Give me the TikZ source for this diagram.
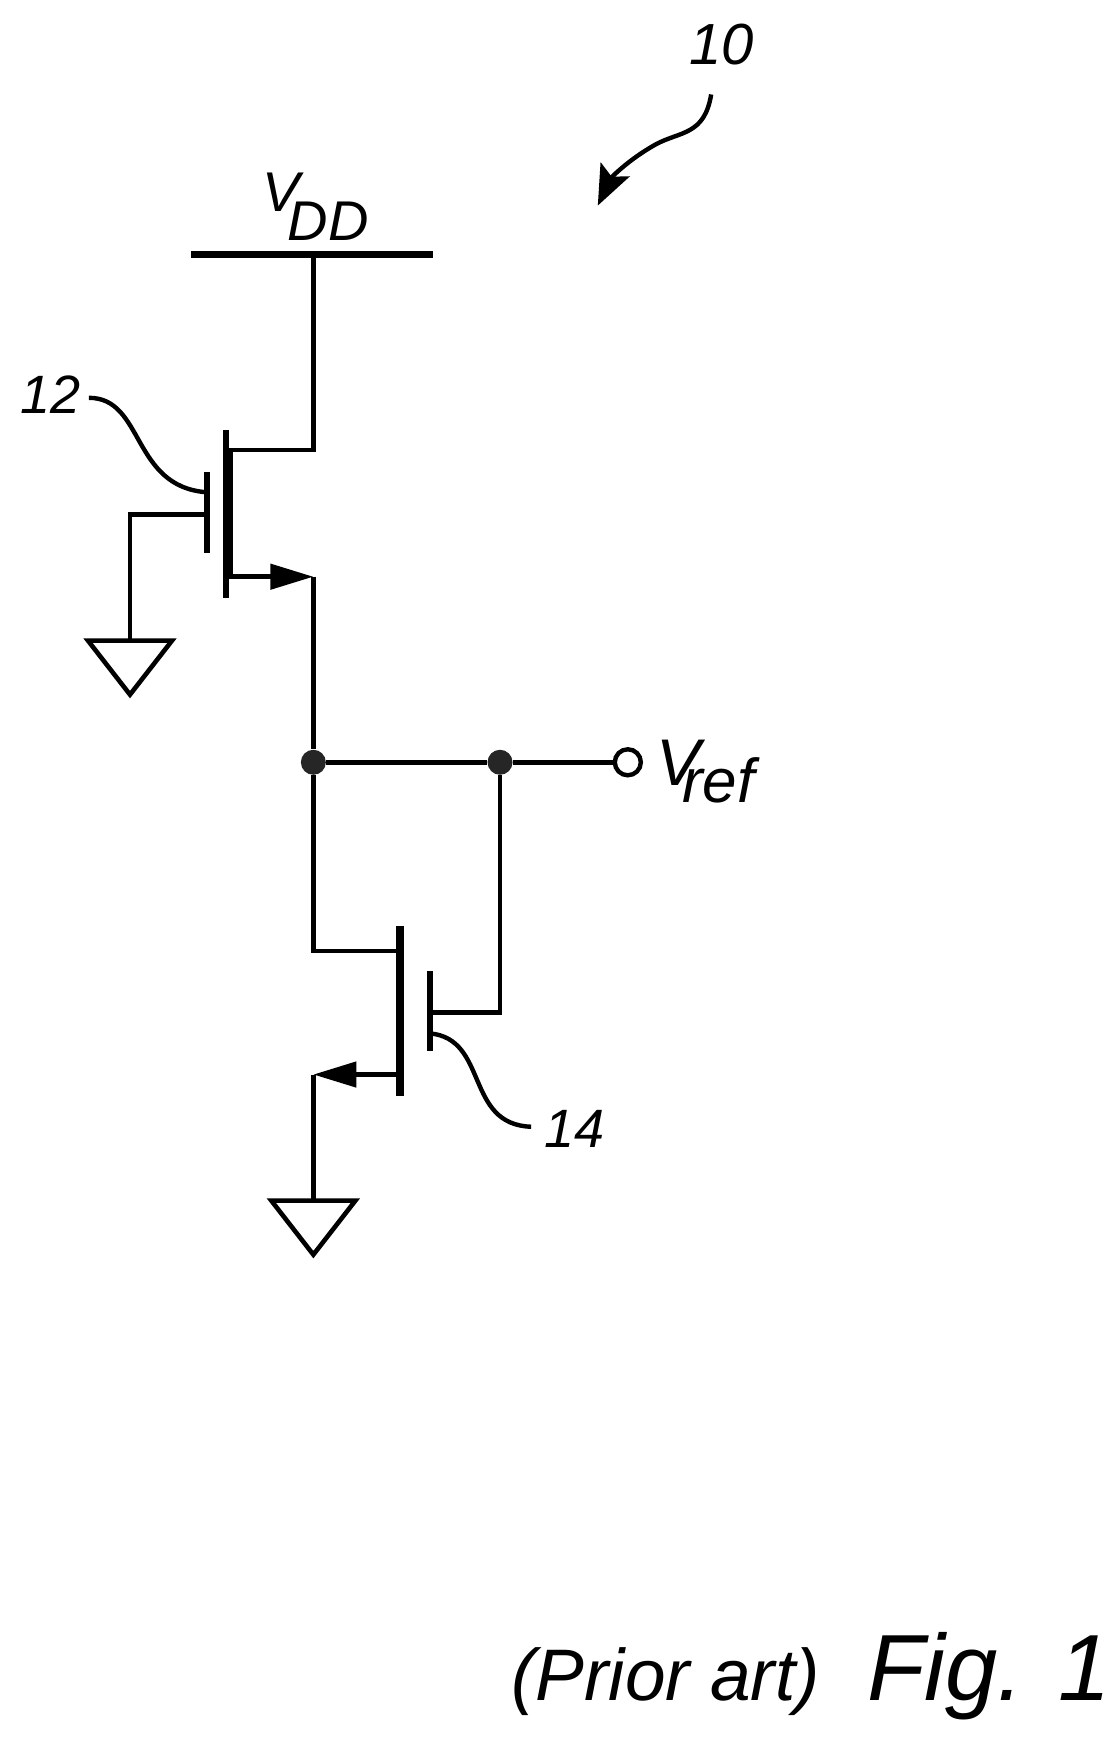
\documentclass[tikz,border=0pt]{standalone}
\usepackage{fontspec}
\setmainfont{Liberation Sans}
\usetikzlibrary{arrows.meta, shapes.geometric}

\tikzset{
  wire/.style = {line width=2.3pt, line join=miter},
  leader/.style = {line width=2.2pt},
  barline/.style = {line width=3pt},
  fatbar/.style = {draw=none, fill=black, inner sep=0pt, minimum width=5pt},
  dot/.style = {circle, fill=black!85, inner sep=0pt, minimum size=12.5pt},
  terminal/.style = {circle, draw, line width=2.2pt, fill=white, inner sep=0pt, minimum size=13pt},
  gnd/.style = {isosceles triangle, isosceles triangle apex angle=74, shape border rotate=-90,
    isosceles triangle stretches, draw, line width=2.3pt, inner sep=0pt, outer sep=0pt,
    minimum width=42pt, minimum height=27pt},
  lbl/.style = {anchor=base west, inner sep=0pt, font=\fontsize{27}{27}\selectfont\itshape},
  srcarrow/.style = {wire, -{Triangle[length=21.5pt, width=12.5pt]}}
}

\begin{document}
\begin{tikzpicture}[x=0.5556pt, y=-0.5556pt]
  \useasboundingbox (0,0) rectangle (1007,1566.8);

  % supply and ground
  \coordinate (busl) at (172,229);
  \coordinate (busr) at (390,229);
  \coordinate (busm) at (282,229);
  \node (gnda) [gnd] at (117,595) {};
  \node (gndb) [gnd] at (282,1099) {};

  % upper transistor
  \coordinate (chanatop) at (203,387);
  \coordinate (chanabot) at (203,538);
  \coordinate (drna) at (203,405);
  \coordinate (srca) at (203,519);
  \node (fata) [fatbar, minimum height=63pt] at (205,461) {};
  \coordinate (gatatop) at (186,425);
  \coordinate (gatabot) at (186,498);
  \coordinate (gata) at (186,463);
  \coordinate (srcaend) at (282,519);

  % lower transistor
  \coordinate (chanbtop) at (360,833);
  \coordinate (chanbbot) at (360,986);
  \coordinate (drnb) at (360,856);
  \coordinate (srcb) at (360,967);
  \coordinate (srcbend) at (282,967);
  \coordinate (gatbtop) at (387,874);
  \coordinate (gatbbot) at (387,946);
  \coordinate (gatb) at (387,911);

  % output rail
  \node (juna) [dot] at (282,686) {};
  \node (junb) [dot] at (450,686) {};
  \node (out) [terminal] at (565,686) {};

  \draw [line width=3.4pt] (busl) -- (busr);
  \draw [wire] (busm) -- (282,405) -- (drna);
  \draw [barline] (chanatop) -- (chanabot);
  \draw [barline] (gatatop) -- (gatabot);
  \draw [wire] (gata) -| (gnda.north);
  \draw [srcarrow] (srca) -- (srcaend);
  \draw [wire] (srcaend) -- (juna);
  \draw [wire] (juna) -- (junb);
  \draw [wire] (junb) -- (out);
  \draw [wire] (juna) |- (drnb);
  \draw [line width=3.6pt] (chanbtop) -- (chanbbot);
  \draw [barline] (gatbtop) -- (gatbbot);
  \draw [wire] (gatb) -| (junb);
  \draw [srcarrow] (srcb) -- (srcbend);
  \draw [wire] (srcbend) -- (gndb.north);

  % reference leaders
  \coordinate (ldrastart) at (80,358);
  \coordinate (ldraend) at (186,443);
  \coordinate (ldrbstart) at (387,930);
  \coordinate (ldrbend) at (478,1014);
  \coordinate (ldrcstart) at (640,85);
  \coordinate (ldrcmid) at (590,130);
  \coordinate (ldrcend) at (538,185);
  \draw [leader] (ldrastart) .. controls (130,358) and (118,438) .. (ldraend);
  \draw [leader] (ldrbstart) .. controls (440,935) and (418,1012) .. (ldrbend);
  \draw [leader, -{Stealth[length=20pt, width=16pt, inset=4pt]}] (ldrcstart)
    .. controls (634,122) and (612,118) .. (ldrcmid)
    .. controls (565,144) and (550,160) .. (ldrcend);

  % labels
  \node (lbltop) [lbl, font=\fontsize{29}{29}\selectfont\itshape] at (620,58) {10};
  \node (lbla) [lbl] at (18,372) {12};
  \node (lblb) [lbl] at (490,1033) {14};
  \node (lblvdd) [lbl, font=\fontsize{28}{28}\selectfont\itshape] at (236,190)
    {V\kern-6pt\raisebox{-14.5pt}{DD}};
  \node (lblvref) [lbl, font=\fontsize{33}{33}\selectfont\itshape] at (590,707)
    {V\kern-9pt\raisebox{-8.4pt}{\fontsize{31}{31}\selectfont ref}};
  \node (lblprior) [lbl, font=\fontsize{36.5}{36.5}\selectfont\itshape] at (460,1530) {(Prior art)};
  \node (lblfig) [lbl, font=\fontsize{47}{47}\selectfont\itshape] at (780,1530) {Fig. 1};
\end{tikzpicture}
\end{document}
